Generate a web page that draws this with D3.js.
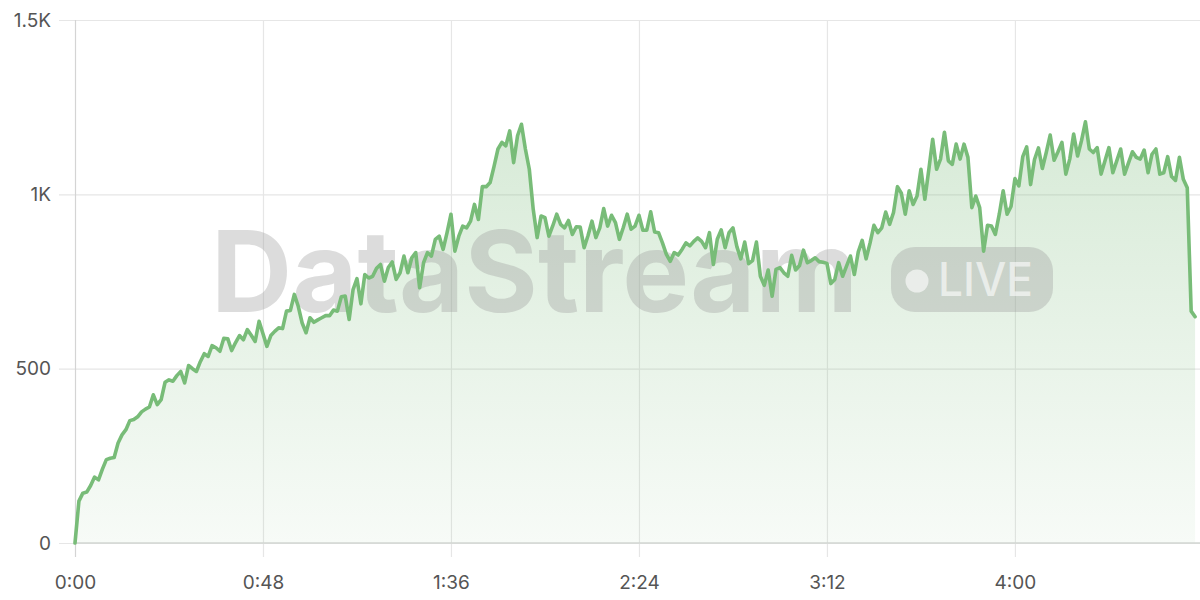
<!DOCTYPE html>
<html>
<head>
<meta charset="utf-8">
<script src="https://cdn.jsdelivr.net/npm/d3@7"></script>
<style>
  html, body { margin: 0; padding: 0; background: #fff; }
  svg { display: block; }
  text { font-family: Inter, "Noto Sans", sans-serif; }
</style>
</head>
<body>
<svg id="chart" width="1200" height="600"></svg>
<script>
// ---- data (one sample per second) ----
const values = [
  0,120,143,146,165,189,181,212,239,243,245,287,310,325,351,354,362,376,384,390,
  425,397,411,461,468,464,480,492,459,509,500,492,520,543,535,566,560,550,587,586,
  552,575,595,583,612,596,578,636,600,564,595,607,617,615,665,667,713,679,631,603,
  646,633,640,646,652,652,668,665,706,708,641,727,758,686,770,760,765,788,799,751,
  790,806,756,775,823,775,818,833,732,804,833,823,871,880,842,890,943,837,880,909,
  904,923,971,928,1022,1022,1034,1080,1130,1149,1139,1182,1091,1168,1201,1130,1072,957,876,938,
  933,880,910,943,914,904,925,885,907,906,847,882,923,876,904,959,909,940,919,871,
  905,943,900,909,940,897,897,950,892,890,861,828,808,833,826,842,861,852,865,875,
  865,847,890,799,871,898,847,890,904,850,815,863,801,810,863,765,739,783,708,785,
  790,775,765,825,783,796,840,804,810,818,807,805,802,744,756,804,765,794,823,770,
  835,868,815,860,911,890,904,949,914,948,1022,1003,943,1010,971,995,1072,986,1070,1158,
  1072,1101,1178,1096,1086,1144,1101,1144,1106,962,995,962,837,911,909,885,943,1010,943,965,
  1045,1024,1108,1136,1028,1100,1133,1074,1120,1170,1098,1122,1149,1058,1101,1173,1110,1154,1208,1130,
  1120,1134,1058,1096,1134,1062,1096,1130,1058,1090,1122,1106,1101,1127,1062,1115,1130,1058,1062,1108,
  1051,1040,1106,1043,1019,665,649
];
const seconds = values.map((v, i) => i);
const xTicks = [0, 48, 96, 144, 192, 240];
const yTicks = [0, 500, 1000, 1500];
const yTickLabels = ["0", "500", "1K", "1.5K"];
const watermarkText = "DataStream";
const badgeText = "LIVE";

// ---- layout ----
const svg = d3.select("#chart");
const mLeft = 75, mRight = 1199, mTop = 20, mBottom = 543;
const x = d3.scaleLinear().domain([0, 287]).range([mLeft, mRight]);
const y = d3.scaleLinear().domain([0, 1500]).range([mBottom, mTop]);

const fmtTime = s => `${Math.floor(s / 60)}:${String(s % 60).padStart(2, "0")}`;

// gradient
const defs = svg.append("defs");
const grad = defs.append("linearGradient").attr("id", "areaGrad")
  .attr("gradientUnits", "userSpaceOnUse")
  .attr("x1", 0).attr("x2", 0).attr("y1", y(1200)).attr("y2", mBottom);
grad.append("stop").attr("offset", 0).attr("stop-color", "#7aba7a").attr("stop-opacity", 0.3);
grad.append("stop").attr("offset", 1).attr("stop-color", "#7aba7a").attr("stop-opacity", 0.06);

// horizontal grid
const yAxis = d3.axisLeft(y).tickValues(yTicks)
  .tickSize(-(1200 - mLeft)).tickPadding(8)
  .tickFormat((d, i) => yTickLabels[i]);
const gy = svg.append("g").attr("transform", `translate(${mLeft},0)`).call(yAxis);
gy.select(".domain").remove();
gy.selectAll(".tick line").attr("stroke", "#e6e6e6").attr("stroke-width", 1.2)
  .attr("x1", -16);
gy.selectAll(".tick text").attr("x", -24).attr("fill", "#555")
  .style("font-size", "19px").style("font-family", "Inter, sans-serif");

// vertical grid + x ticks
const xAxis = d3.axisBottom(x).tickValues(xTicks)
  .tickSize(-(mBottom - mTop)).tickPadding(0).tickFormat(fmtTime);
const gx = svg.append("g").attr("transform", `translate(0,${mBottom})`).call(xAxis);
gx.select(".domain").remove();
gx.selectAll(".tick line").attr("stroke", "#e6e6e6").attr("stroke-width", 1.2)
  .attr("y1", 14);
gx.selectAll(".tick line").filter(d => d === 0).attr("stroke", "#d4d4d4");
gx.selectAll(".tick text").attr("y", 46).attr("dy", 0).attr("fill", "#555")
  .style("font-size", "19px").style("font-family", "Inter, sans-serif");

// area
const area = d3.area().x((d, i) => x(seconds[i])).y0(y(0)).y1(d => y(d));
svg.append("path").datum(values).attr("d", area).attr("fill", "url(#areaGrad)");

// baseline
svg.append("line").attr("x1", mLeft).attr("x2", 1200).attr("y1", y(0)).attr("y2", y(0))
  .attr("stroke", "#d2d6d2").attr("stroke-width", 1.5);

// watermark
const wm = svg.append("g").attr("pointer-events", "none");
wm.append("text").attr("x", 211).attr("y", 312)
  .attr("textLength", 647).attr("lengthAdjust", "spacingAndGlyphs")
  .style("font-family", "Inter, sans-serif").style("font-weight", 700)
  .style("font-size", "113px").attr("fill", "#9a9a9a").attr("fill-opacity", 0.35)
  .text(watermarkText);
wm.append("rect").attr("x", 891).attr("y", 247).attr("width", 162).attr("height", 65)
  .attr("rx", 24).attr("fill", "#9a9a9a").attr("fill-opacity", 0.35);
wm.append("circle").attr("cx", 917).attr("cy", 281).attr("r", 11.5)
  .attr("fill", "#fff").attr("fill-opacity", 0.6);
wm.append("text").attr("x", 938).attr("y", 296)
  .attr("textLength", 95).attr("lengthAdjust", "spacingAndGlyphs")
  .style("font-family", "Inter, sans-serif").style("font-weight", 500)
  .style("font-size", "46px").attr("fill", "#fff").attr("fill-opacity", 0.6)
  .text(badgeText);

// line
const line = d3.line().x((d, i) => x(seconds[i])).y(d => y(d));
svg.append("path").datum(values).attr("d", line)
  .attr("fill", "none").attr("stroke", "#78bc78").attr("stroke-width", 3.6)
  .attr("stroke-linejoin", "round").attr("stroke-linecap", "round");
</script>
</body>
</html>
